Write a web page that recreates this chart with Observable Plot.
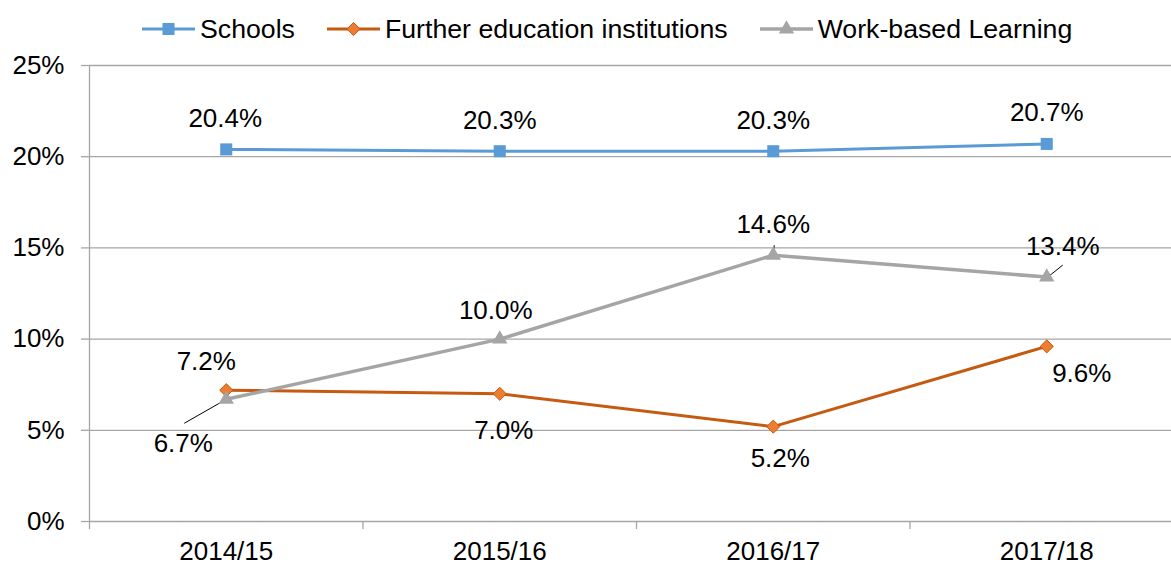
<!DOCTYPE html>
<html>
<head>
<meta charset="utf-8">
<script src="https://cdn.jsdelivr.net/npm/d3@7"></script>
<script src="https://cdn.jsdelivr.net/npm/@observablehq/plot@0.6"></script>
<style>
  body { margin: 0; background: #fff; font-family: "Liberation Sans", Arial, sans-serif; }
  #legend { height: 58px; display: flex; align-items: center; padding-left: 142px; box-sizing: border-box; font-size: 26.7px; color: #000; }
  .item { display: flex; align-items: center; margin-right: 32px; }
  .item svg { margin-right: 5px; }
  #chart svg { display: block; }
</style>
</head>
<body>
<div id="legend"></div>
<div id="chart"></div>
<script>
// ---- data ----
const years = ["2014/15", "2015/16", "2016/17", "2017/18"];
const seriesNames = ["Schools", "Further education institutions", "Work-based Learning"];
const schools = [20.4, 20.3, 20.3, 20.7];
const further = [7.2, 7.0, 5.2, 9.6];
const workBased = [6.7, 10.0, 14.6, 13.4];
const yTicks = [0, 5, 10, 15, 20, 25];

// ---- styling / layout config ----
const colors = {line: ["#5B9BD5", "#C55A11", "#A5A5A5"], fill: ["#5B9BD5", "#ED7D31", "#A5A5A5"]};
const symbols = ["square", "diamond2", "triangle"];
const radii = [6.8, 5.9, 5.7];
const strokeW = [3, 3, 3.5];
// label offsets in pixels [dx, dy] per series per year
const labelOffsets = [
  [[-1, -31], [0, -31], [0, -31], [0, -31]],
  [[-20, -29], [4, 37], [7, 32], [35, 27]],
  [[-43, 44], [-4, -28], [0, -31], [16, -30]]
];
// leader lines in pixels [x1, y1, x2, y2] relative to point, per series/year (null = none)
const leaders = [
  [null, null, null, null],
  [null, null, null, null],
  [[0, 0, -42, 24], null, [0, -2, 1, -10], [1, 0, 16, -12]]
];

const W = 1171, H = 507, mT = 7, mB = 44, xLeft = 89, xRight = 1183;
const pxX = (xRight - xLeft) / 4;
const pxY = (H - mB - mT) / 25;

const allValues = [schools, further, workBased];
const rows = [];
allValues.forEach((vals, s) => vals.forEach((v, i) => rows.push({s, i, year: years[i], value: v})));

// legend
const legend = document.getElementById("legend");
seriesNames.forEach((name, s) => {
  const item = document.createElement("div");
  item.className = "item";
  const sym = d3.symbol(s === 0 ? d3.symbolSquare : s === 1 ? d3.symbolDiamond2 : d3.symbolTriangle, Math.PI * radii[s] * radii[s])();
  item.innerHTML = `<svg width="53" height="20" viewBox="0 0 53 20"><line x1="0" x2="53" y1="10" y2="10" stroke="${colors.line[s]}" stroke-width="${strokeW[s]}"/><path d="${sym}" transform="translate(26.5,10)" fill="${colors.fill[s]}" stroke="${s===1?colors.line[1]:'none'}" stroke-width="1"/></svg><span>${name}</span>`;
  legend.appendChild(item);
});

const font = "Liberation Sans, Arial, sans-serif";
const marks = [
  Plot.ruleY(yTicks, {stroke: "#a6a6a6", strokeWidth: 1.3}),
  Plot.ruleX([-0.5], {y1: 0, y2: 25, stroke: "#a6a6a6", strokeWidth: 1.3}),
  Plot.axisY(yTicks, {tickSize: 8, tickPadding: 17, tickFormat: d => d + "%", fontSize: 26, stroke: "#a6a6a6", fill: "#000", strokeWidth: 1.3}),
  Plot.axisX([-0.5, 0.5, 1.5, 2.5], {tickSize: 8, tickFormat: () => "", stroke: "#a6a6a6", strokeWidth: 1.3}),
  Plot.axisX([0, 1, 2, 3], {tickSize: 0, tickPadding: 20, tickFormat: i => years[i], fontSize: 26, fill: "#000"})
];

// leader lines
const leaderRows = [];
rows.forEach(r => {
  const L = leaders[r.s][r.i];
  if (L) leaderRows.push({x1: r.i + L[0] / pxX, y1: r.value - L[1] / pxY, x2: r.i + L[2] / pxX, y2: r.value - L[3] / pxY});
});
marks.push(Plot.link(leaderRows, {x1: "x1", y1: "y1", x2: "x2", y2: "y2", stroke: "#000", strokeWidth: 1}));

[0, 1, 2].forEach(s => {
  const data = rows.filter(r => r.s === s);
  marks.push(Plot.line(data, {x: "i", y: "value", stroke: colors.line[s], strokeWidth: strokeW[s]}));
  marks.push(Plot.dot(data, {x: "i", y: "value", symbol: symbols[s], r: radii[s], fill: colors.fill[s], stroke: s === 1 ? colors.line[1] : "none", strokeWidth: 1}));
});
rows.forEach(r => {
  const [dx, dy] = labelOffsets[r.s][r.i];
  marks.push(Plot.text([r], {x: "i", y: "value", text: d => d.value.toFixed(1) + "%", dx, dy, fontSize: 26, fill: "#000"}));
});

const chart = Plot.plot({
  width: W, height: H,
  marginTop: mT, marginBottom: mB, marginLeft: xLeft, marginRight: 0,
  style: {fontFamily: font, fontSize: "26px", background: "#fff", overflow: "visible"},
  x: {type: "linear", domain: [-0.5, 3.5], range: [xLeft, xRight], axis: null},
  y: {domain: [0, 25], axis: null},
  marks
});
document.getElementById("chart").appendChild(chart);
</script>
</body>
</html>
